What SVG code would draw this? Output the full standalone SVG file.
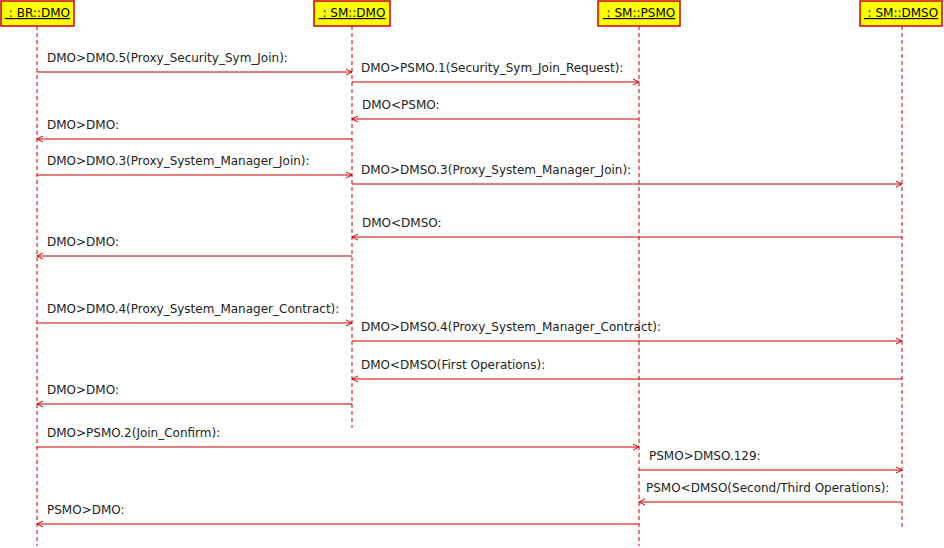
<svg xmlns="http://www.w3.org/2000/svg" width="944" height="548" viewBox="0 0 944 548">
<style>
.box{fill:#ffff00;stroke:#cc0000;stroke-width:1.5}
.title{font-family:"DejaVu Sans",sans-serif;font-size:12px;fill:#000;text-anchor:middle;text-decoration:underline}
.life{stroke:#cc0000;stroke-width:1;stroke-dasharray:4,3;fill:none}
.msg{stroke:#cc0000;stroke-width:1;fill:none;marker-end:url(#arr)}
.lbl{font-family:"DejaVu Sans",sans-serif;font-size:12px;fill:#222}
</style>
<defs>
<marker id="arr" markerWidth="8" markerHeight="8" refX="7" refY="4" orient="auto" markerUnits="userSpaceOnUse">
<path d="M1,1 L7,4 L1,7" fill="none" stroke="#cc0000" stroke-width="1"/>
</marker>
</defs>
<rect width="944" height="548" fill="#fff"/>
<g id="node-br-dmo">
<rect class="box" x="1" y="1" width="73" height="25"/>
<text class="title" x="37.5" y="17" xml:space="preserve"> : BR::DMO</text>
<line class="life" x1="37" y1="26" x2="37" y2="546"/>
</g>
<g id="node-sm-dmo">
<rect class="box" x="314" y="1" width="76" height="25"/>
<text class="title" x="352" y="17" xml:space="preserve"> : SM::DMO</text>
<line class="life" x1="352" y1="26" x2="352" y2="428"/>
</g>
<g id="node-sm-psmo">
<rect class="box" x="598" y="1" width="82" height="25"/>
<text class="title" x="639" y="17" xml:space="preserve"> : SM::PSMO</text>
<line class="life" x1="639" y1="26" x2="639" y2="546"/>
</g>
<g id="node-sm-dmso">
<rect class="box" x="860" y="1" width="82" height="25"/>
<text class="title" x="901" y="17" xml:space="preserve"> : SM::DMSO</text>
<line class="life" x1="902" y1="26" x2="902" y2="527"/>
</g>
<g id="connectors">
<line class="msg" x1="37" y1="72" x2="352" y2="72"/>
<text class="lbl" x="47" y="62">DMO&gt;DMO.5(Proxy_Security_Sym_Join):</text>
<line class="msg" x1="352" y1="82" x2="639" y2="82"/>
<text class="lbl" x="361" y="72">DMO&gt;PSMO.1(Security_Sym_Join_Request):</text>
<line class="msg" x1="639" y1="119" x2="352" y2="119"/>
<text class="lbl" x="362" y="109">DMO&lt;PSMO:</text>
<line class="msg" x1="352" y1="139" x2="37" y2="139"/>
<text class="lbl" x="47" y="129">DMO&gt;DMO:</text>
<line class="msg" x1="37" y1="175" x2="352" y2="175"/>
<text class="lbl" x="47" y="165">DMO&gt;DMO.3(Proxy_System_Manager_Join):</text>
<line class="msg" x1="352" y1="184" x2="902" y2="184"/>
<text class="lbl" x="361" y="174">DMO&gt;DMSO.3(Proxy_System_Manager_Join):</text>
<line class="msg" x1="902" y1="237" x2="352" y2="237"/>
<text class="lbl" x="362" y="227">DMO&lt;DMSO:</text>
<line class="msg" x1="352" y1="256" x2="37" y2="256"/>
<text class="lbl" x="47" y="246">DMO&gt;DMO:</text>
<line class="msg" x1="37" y1="323" x2="352" y2="323"/>
<text class="lbl" x="47" y="313">DMO&gt;DMO.4(Proxy_System_Manager_Contract):</text>
<line class="msg" x1="352" y1="341" x2="902" y2="341"/>
<text class="lbl" x="361" y="331">DMO&gt;DMSO.4(Proxy_System_Manager_Contract):</text>
<line class="msg" x1="902" y1="379" x2="352" y2="379"/>
<text class="lbl" x="361" y="369">DMO&lt;DMSO(First Operations):</text>
<line class="msg" x1="352" y1="404" x2="37" y2="404"/>
<text class="lbl" x="47" y="394">DMO&gt;DMO:</text>
<line class="msg" x1="37" y1="447" x2="639" y2="447"/>
<text class="lbl" x="47" y="437">DMO&gt;PSMO.2(Join_Confirm):</text>
<line class="msg" x1="639" y1="470" x2="902" y2="470"/>
<text class="lbl" x="649" y="460">PSMO&gt;DMSO.129:</text>
<line class="msg" x1="902" y1="502" x2="639" y2="502"/>
<text class="lbl" x="646" y="492">PSMO&lt;DMSO(Second/Third Operations):</text>
<line class="msg" x1="639" y1="524" x2="37" y2="524"/>
<text class="lbl" x="47" y="514">PSMO&gt;DMO:</text>
</g>
</svg>
